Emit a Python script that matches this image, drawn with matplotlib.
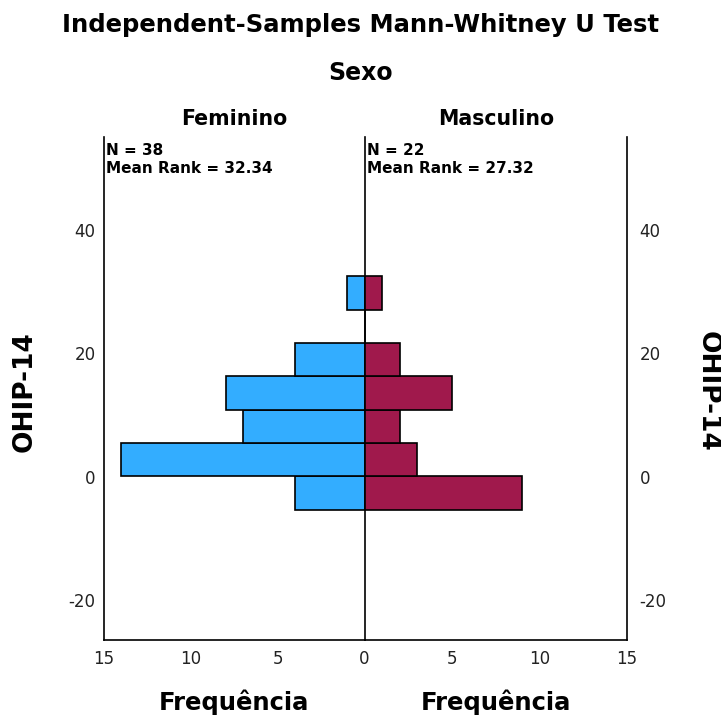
import numpy as np
import matplotlib
matplotlib.use("Agg")
import matplotlib.pyplot as plt

plt.rcParams["axes.unicode_minus"] = False

# OHIP-14 histogram bins (bin edges)
bin_edges = [-5.3, 0.1, 5.5, 10.9, 16.3, 21.7, 27.1, 32.5]
fem_counts = [4, 14, 7, 8, 4, 0, 1]
masc_counts = [9, 3, 2, 5, 2, 0, 1]
groups = ["Feminino", "Masculino"]
n_text = ["N = 38\nMean Rank = 32.34", "N = 22\nMean Rank = 27.32"]
y_ticks = [-20, 0, 20, 40]
x_ticks_l = [0, 5, 10, 15]
x_ticks_r = [5, 10, 15]

blue = "#33adff"
red = "#a0194c"
tick_col = "#222222"

fig = plt.figure(figsize=(7.21, 7.22), dpi=100)
left, mid, right = 0.144, 0.5057, 0.8696
bottom, top = 0.1136, 0.810
ax_l = fig.add_axes([left, bottom, mid - left, top - bottom])
ax_r = fig.add_axes([mid, bottom, right - mid, top - bottom], sharey=ax_l)

edges = np.array(bin_edges)
heights = np.diff(edges)

ax_l.barh(edges[:-1], fem_counts, height=heights, align="edge",
          color=blue, edgecolor="black", linewidth=1.2)
ax_r.barh(edges[:-1], masc_counts, height=heights, align="edge",
          color=red, edgecolor="black", linewidth=1.2)

ax_l.set_xlim(15, 0)
ax_r.set_xlim(0, 15)
ax_l.set_ylim(-26.4, 55)

for ax in (ax_l, ax_r):
    ax.patch.set_visible(False)
    ax.spines["top"].set_visible(False)
    for s in ax.spines.values():
        s.set_linewidth(1.2)
    ax.tick_params(length=0, labelsize=12, labelcolor=tick_col)
    ax.tick_params(axis="x", pad=7)

ax_l.set_xticks(x_ticks_l)
ax_r.set_xticks(x_ticks_r)
ax_r.spines["left"].set_visible(False)
ax_l.spines["right"].set_zorder(5)
ax_l.set_yticks(y_ticks)
ax_l.tick_params(axis="y", pad=6)
ax_r.yaxis.tick_right()
ax_r.tick_params(axis="y", labelright=True, labelleft=False, pad=9)

for ax, g, t in zip((ax_l, ax_r), groups, n_text):
    ax.set_title(g, fontsize=14.8, fontweight="bold", pad=9)
    ax.text(0.008, 0.988, t, transform=ax.transAxes, ha="left", va="top",
            fontsize=11, fontweight="bold", linespacing=1.2)
    ax.set_xlabel("Frequência", fontsize=17.5, fontweight="bold", labelpad=16)

fig.text(25 / 721, 1 - 392 / 722, "OHIP-14", rotation=90, ha="center",
         va="center", fontsize=19, fontweight="bold")
fig.text(708 / 721, 1 - 391 / 722, "OHIP-14", rotation=-90, ha="center",
         va="center", fontsize=19, fontweight="bold")

fig.text(0.5, 1 - 25 / 722, "Independent-Samples Mann-Whitney U Test",
         ha="center", va="center", fontsize=17.5, fontweight="bold")
fig.text(0.5, 1 - 73 / 722, "Sexo", ha="center", va="center",
         fontsize=17, fontweight="bold")

fig.savefig("out.png", dpi=100)
